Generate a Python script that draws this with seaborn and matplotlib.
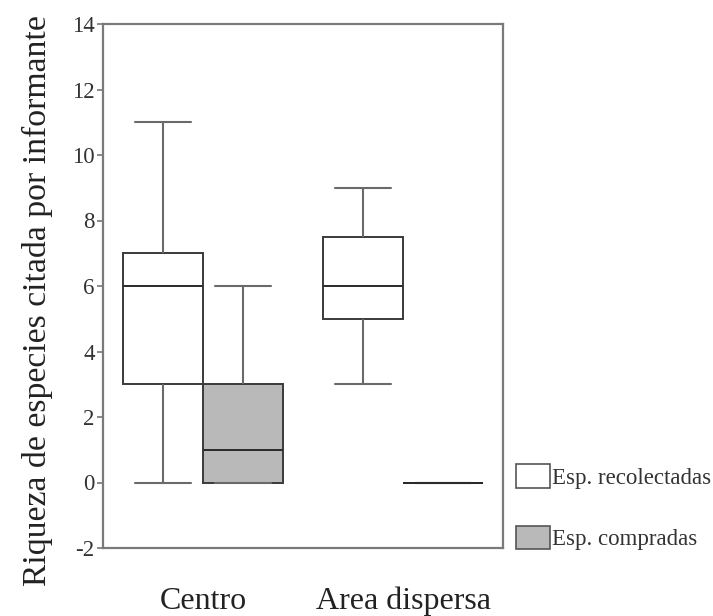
import matplotlib
matplotlib.use("Agg")
import matplotlib.pyplot as plt
import seaborn as sns
import pandas as pd

categories = ["Centro", "Area dispersa"]
hue_levels = ["Esp. recolectadas", "Esp. compradas"]
centro_recolectadas = [0, 3, 6, 7, 11]
centro_compradas = [0, 0, 1, 3, 6]
area_recolectadas = [3, 5, 6, 7.5, 9]
area_compradas = [0, 0, 0, 0, 0]
y_ticks = [-2, 0, 2, 4, 6, 8, 10, 12, 14]
y_label = "Riqueza de especies citada por informante"

rows = []
for cat, hue, vals in [
    (categories[0], hue_levels[0], centro_recolectadas),
    (categories[0], hue_levels[1], centro_compradas),
    (categories[1], hue_levels[0], area_recolectadas),
    (categories[1], hue_levels[1], area_compradas),
]:
    for v in vals:
        rows.append({"zona": cat, "tipo": hue, "valor": v})
df = pd.DataFrame(rows)

sns.set_theme(style="white")
plt.rcParams["font.family"] = ["Liberation Serif", "DejaVu Serif"]

fig = plt.figure(figsize=(7.13, 6.16), dpi=100)
ax = fig.add_axes([103 / 713, 68 / 616, 400 / 713, 524 / 616])

sns.boxplot(
    data=df, x="zona", y="valor", hue="tipo",
    order=categories, hue_order=hue_levels,
    palette={hue_levels[0]: "#ffffff", hue_levels[1]: "#b9b9b9"},
    width=0.8, gap=0, dodge=True, whis=1.5,
    linecolor="#3a3a3a", linewidth=1.4,
    capwidths=0.28,
    whiskerprops={"color": "#6a6a6a", "linewidth": 1.5},
    capprops={"color": "#6a6a6a", "linewidth": 1.5},
    medianprops={"color": "#2a2a2a", "linewidth": 1.4},
    ax=ax,
)

ax.set_xlim(-0.5, 1.5)
ax.set_ylim(-2, 14)
ax.set_yticks(y_ticks)
ax.set_yticklabels([str(t) for t in y_ticks], fontsize=16.5, color="#333333")
ax.set_xticks(range(len(categories)))
ax.set_xticklabels(categories, fontsize=23, color="#222222")
ax.tick_params(axis="x", length=0, pad=28)
ax.tick_params(axis="y", length=4, width=1.2, color="#777777", direction="out", pad=2, left=True)
ax.set_xlabel("")
ax.set_ylabel(y_label, fontsize=24.3, color="#222222")
ax.yaxis.set_label_coords(-0.125, 0.473)
for s in ax.spines.values():
    s.set_visible(True)
    s.set_color("#7a7a7a")
    s.set_linewidth(1.6)

sns.move_legend(
    ax, "lower left",
    bbox_to_anchor=(516 / 713, 66 / 616), bbox_transform=fig.transFigure,
    frameon=False, title=None, fontsize=16.5,
    handlelength=1.5, handleheight=1.2, handletextpad=0.08,
    labelspacing=1.6, borderpad=0, borderaxespad=0,
)
leg = ax.get_legend()
for h in leg.legend_handles:
    h.set_edgecolor("#555555")
    h.set_linewidth(1.2)
for t in leg.get_texts():
    t.set_color("#333333")

fig.savefig("out.png", dpi=100)
